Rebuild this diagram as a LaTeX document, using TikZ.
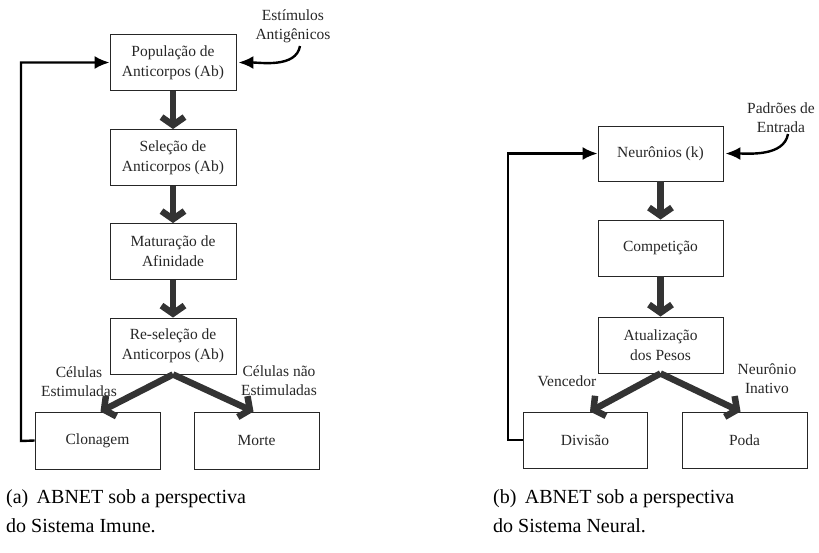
\documentclass[tikz,border=0pt]{standalone}
\usepackage{fontspec}
\setmainfont{Liberation Serif}
\usetikzlibrary{arrows.meta,calc}
\begin{document}
\begin{tikzpicture}[x=1pt,y=-1pt,
  box/.style={draw=black!85,line width=0.9pt,minimum width=126pt,minimum height=56pt,
    align=center,font=\fontsize{15.5}{20}\selectfont,text=black!85,inner sep=0pt},
  lbl/.style={align=center,font=\fontsize{15.5}{19}\selectfont,text=black!85,inner sep=0pt},
  captext/.style={align=left,font=\fontsize{20}{29}\selectfont,anchor=north west,inner sep=0pt},
  flow/.style={draw=black!80,line width=6.5pt,-{Straight Barb[length=8pt,width=23pt]}},
  fb/.style={draw=black,line width=2.4pt,-{Latex[length=15pt,width=13pt]}}]
\useasboundingbox (0,0) rectangle (819,552);

% ---- (a) immune system view ----
\node[box] (a1) at (173,62.5) {População de\\Anticorpos (Ab)};
\node[box] (a2) at (173,157.5) {Seleção de\\Anticorpos (Ab)};
\node[box] (a3) at (173,251.5) {Maturação de\\Afinidade};
\node[box] (a4) at (173,346) {Re-seleção de\\Anticorpos (Ab)};
\node[box,minimum width=125pt,minimum height=57pt] (a5) at (97.5,440.5) {Clonagem};
\node[box,minimum width=125pt,minimum height=57pt] (a6) at (256.5,440.5) {Morte};
\node[lbl] (astim) at (293,26) {Estímulos\\Antigênicos};
\node[lbl] (acel) at (79,381.5) {Células\\Estimuladas};
\node[lbl] (anao) at (279,380.5) {Células não\\Estimuladas};
\coordinate (as) at (300,46);
\coordinate (aloop) at (21,441);

\draw[flow] (a1) -- (a2);
\draw[flow] (a2) -- (a3);
\draw[flow] (a3) -- (a4);
\draw[flow] (a4.south) -- ([xshift=3pt]a5.north);
\draw[flow] (a4.south) -- ([xshift=-3pt]a6.north);
\draw[fb] (a5.west) -- (aloop) |- (a1.west);
\draw[fb] (as) to[out=-100,in=0,looseness=0.9] ([xshift=2pt]a1.east);

% ---- (b) neural system view ----
\node[box,minimum width=125pt,minimum height=55pt] (b1) at (660.5,153.5) {Neurônios (k)};
\node[box,minimum width=125pt,minimum height=56pt] (b2) at (660.5,248) {Competição};
\node[box,minimum width=125pt,minimum height=56pt] (b3) at (660.5,345) {Atualização\\dos Pesos};
\node[box,minimum width=124pt,minimum height=56pt] (b4) at (585,440) {Divisão};
\node[box,minimum width=125pt,minimum height=56pt] (b5) at (744.5,440) {Poda};
\node[lbl] (bpad) at (781,117.5) {Padrões de\\Entrada};
\node[lbl] (bven) at (567,381) {Vencedor};
\node[lbl] (bina) at (767,379) {Neurônio\\Inativo};
\coordinate (bs) at (788,134);
\coordinate (bloop) at (508,440);

\draw[flow] (b1) -- (b2);
\draw[flow] (b2) -- (b3);
\draw[flow] (b3.south) -- ([xshift=5pt]b4.north);
\draw[flow] (b3.south) -- ([xshift=-4pt]b5.north);
\draw[fb] (b4.west) -- (bloop) |- (b1.west);
\draw[fb] (bs) to[out=-100,in=0,looseness=0.9] ([xshift=2pt]b1.east);

% ---- captions ----
\node[captext] (capa) at (6,489) {(a)\, ABNET sob a perspectiva\\do Sistema Imune.};
\node[captext] (capb) at (493,489) {(b)\, ABNET sob a perspectiva\\do Sistema Neural.};
\end{tikzpicture}
\end{document}
